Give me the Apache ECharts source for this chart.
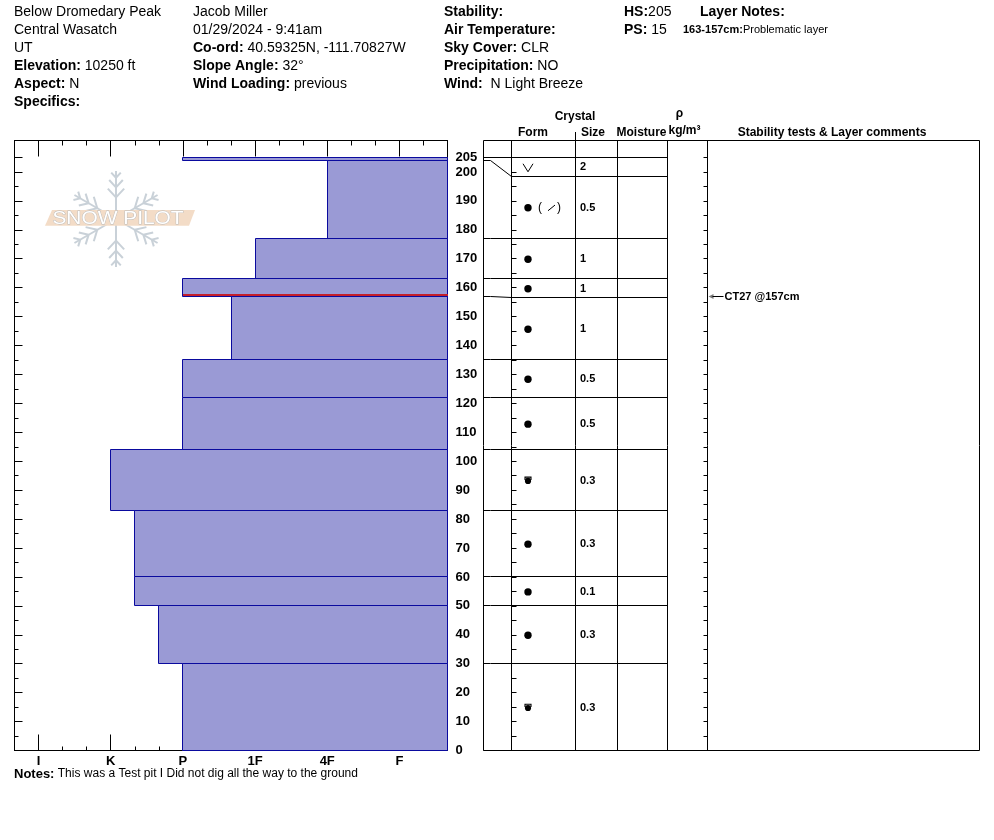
<!DOCTYPE html>
<html>
<head>
<meta charset="utf-8">
<title>Snow profile - Below Dromedary Peak</title>
<script src="https://cdn.jsdelivr.net/npm/echarts@6/dist/echarts.min.js"></script>
<style>
  html, body { margin: 0; padding: 0; background: #fff; }
  #py-chart { width: 994px; height: 840px; }
</style>
</head>
<body>
<div id="py-chart"></div>
<script>
// layers, top to bottom, heights in cm above ground
var layerTops = [205, 204, 177, 163, 157, 135, 122, 104, 83, 60, 50, 30];
var layerBottoms = [204, 177, 163, 157, 135, 122, 104, 83, 60, 50, 30, 0];
var layerHardness = ["P", "4F", "1F", "P", "1F+", "P", "P", "K", "K-", "K-", "P+", "P"];
var layerForms = ["SH", "RG(DF)", "RG", "RG", "RG", "RG", "RG", "MFcr", "RG", "RG", "RG", "MFcr"];
var layerSizes = ["2", "0.5", "1", "1", "1", "0.5", "0.5", "0.3", "0.3", "0.1", "0.3", "0.3"];

// hardness scale, one slot per third of a step
var hardnessTicks = ["", "I", "", "", "K", "", "", "P", "", "", "1F", "", "", "4F", "", "", "F", "", ""];

var heightMax = 205;
var problemDepths = [157];
var testDepths = [157];
var testLabels = ["CT27 @157cm"];

var infoCol1 = ["Below Dromedary Peak", "Central Wasatch", "UT", "{b|Elevation:} 10250 ft", "{b|Aspect:} N", "{b|Specifics:}"];
var infoCol2 = ["Jacob Miller", "01/29/2024 - 9:41am", "{b|Co-ord:} 40.59325N, -111.70827W", "{b|Slope Angle:} 32°", "{b|Wind Loading:} previous"];
var infoCol3 = ["{b|Stability:}", "{b|Air Temperature:}", "{b|Sky Cover:} CLR", "{b|Precipitation:} NO", "{b|Wind:}  N Light Breeze"];
var infoCol4 = ["{b|HS:}205", "{b|PS:} 15"];

var FONT = '"Liberation Sans", Arial, sans-serif';
var TABLE_LEFT = 483.5;
var TABLE_RIGHT = 979.5;
var TABLE_TOP = 140.5;
var TABLE_BOTTOM = 750.5;
var TABLE_COLS = [511.5, 575.5, 617.5, 667.5, 707.5];
var ROW_MIN = 18.5;
var FORM_X = 528;
var SIZE_X = 580;

var crisp = function (v) {
  return Math.round(v - 0.5) + 0.5;
};

var hardnessIndex = function (code) {
  var base = code.replace(/[+-]$/, "");
  var idx = hardnessTicks.indexOf(base);
  if (/\+$/.test(code)) idx -= 1;
  if (/-$/.test(code)) idx += 1;
  return idx;
};

var textEl = function (x, y, text, size, bold, align) {
  return {
    type: "text",
    x: x,
    y: y,
    silent: true,
    style: {
      text: text,
      fontFamily: FONT,
      fontSize: size,
      fontWeight: bold ? "bold" : "normal",
      fill: "#000",
      align: align || "left",
      textAlign: align || "left",
      verticalAlign: "middle",
      textVerticalAlign: "middle",
      rich: {
        b: { fontFamily: FONT, fontSize: size, fontWeight: "bold", fill: "#000" },
        s: { fontFamily: FONT, fontSize: 11, fontWeight: "bold", fill: "#000" },
        n: { fontFamily: FONT, fontSize: 11, fontWeight: "normal", fill: "#000" },
      },
    },
  };
};

var lineEl = function (x1, y1, x2, y2, color, width) {
  return {
    type: "line",
    silent: true,
    shape: { x1: x1, y1: y1, x2: x2, y2: y2 },
    style: { stroke: color || "#000", lineWidth: width || 1 },
  };
};

// snow pilot watermark
var watermark = function (cx, cy, r) {
  var els = [];
  var col = "#c9d1d8";
  for (var a = 0; a < 6; a++) {
    var ang = ((90 + 60 * a) * Math.PI) / 180;
    var dx = Math.cos(ang);
    var dy = -Math.sin(ang);
    els.push(lineEl(cx, cy, cx + dx * r, cy + dy * r, col, 2));
    var spots = [0.45, 0.66, 0.86];
    var lens = [12, 10, 7];
    for (var j = 0; j < spots.length; j++) {
      var bx = cx + dx * r * spots[j];
      var by = cy + dy * r * spots[j];
      for (var s = -1; s <= 1; s += 2) {
        var ba = ang + s * 0.75;
        els.push(lineEl(bx, by, bx + Math.cos(ba) * lens[j], by - Math.sin(ba) * lens[j], col, 2));
      }
    }
  }
  els.push({
    type: "polygon",
    silent: true,
    shape: { points: [[45, 225.7], [52, 210], [195, 210], [189, 225.7]] },
    style: { fill: "#f3dcc7" },
  });
  els.push({
    type: "text",
    x: 118,
    y: 218.5,
    silent: true,
    scaleX: 1.1,
    style: {
      text: "SNOW PILOT",
      fontFamily: FONT,
      fontSize: 19,
      fill: "#ffffff",
      stroke: "#b9b9b9",
      lineWidth: 0.8,
      align: "center",
      textAlign: "center",
      verticalAlign: "middle",
      textVerticalAlign: "middle",
    },
  });
  return els;
};

var seg = function (points) {
  return {
    type: "polyline",
    shape: { points: points },
    style: { stroke: "#000", lineWidth: 1, fill: null },
  };
};

var formSymbol = function (code, cx, cy) {
  var out = [];
  if (code === "SH") {
    out.push({
      type: "polyline",
      shape: { points: [[cx - 5, cy - 3.5], [cx, cy + 4.5], [cx + 5, cy - 3.5]] },
      style: { stroke: "#000", lineWidth: 1, fill: null },
    });
  }
  if (code.indexOf("RG") === 0) {
    out.push({ type: "circle", shape: { cx: cx, cy: cy, r: 3.7 }, style: { fill: "#000" } });
  }
  if (code === "RG(DF)") {
    out.push({
      type: "text",
      style: { text: "(", x: cx + 10, y: cy, fontFamily: FONT, fontSize: 12, fill: "#000", verticalAlign: "middle", textVerticalAlign: "middle" },
    });
    out.push({ type: "line", shape: { x1: cx + 20, y1: cy + 3, x2: cx + 27, y2: cy - 2.7 }, style: { stroke: "#000", lineWidth: 1 } });
    out.push({
      type: "text",
      style: { text: ")", x: cx + 29, y: cy, fontFamily: FONT, fontSize: 12, fill: "#000", verticalAlign: "middle", textVerticalAlign: "middle" },
    });
  }
  if (code === "MFcr") {
    out.push({
      type: "polyline",
      shape: { points: [[cx - 3, cy - 0.5], [cx - 3, cy - 3.4], [cx + 3, cy - 3.4], [cx + 3, cy - 0.5]] },
      style: { stroke: "#000", lineWidth: 1.1, fill: null },
    });
    out.push({ type: "circle", shape: { cx: cx, cy: cy + 0.4, r: 3.1 }, style: { fill: "#000" } });
  }
  return out;
};

// table rows follow the layers, but a row never gets thinner than ROW_MIN px
var rowEdges = function (api) {
  var edges = [api.coord([0, layerTops[0]])[1]];
  for (var k = 0; k < layerBottoms.length; k++) {
    var y = api.coord([0, layerBottoms[k]])[1];
    edges.push(Math.max(y, edges[k] + ROW_MIN));
  }
  return edges;
};

var renderLayer = function (params, api) {
  var p0 = api.coord([api.value(0), api.value(1)]);
  var p1 = api.coord([hardnessTicks.length - 1, api.value(2)]);
  var x0 = crisp(p0[0]);
  var y0 = crisp(p0[1]);
  var x1 = crisp(p1[0]);
  var y1 = crisp(p1[1]);
  return {
    type: "rect",
    shape: { x: x0, y: y0, width: x1 - x0, height: y1 - y0 },
    style: { fill: "#9a9ad5", stroke: "#0a0a9e", lineWidth: 1 },
  };
};

var renderProblem = function (params, api) {
  var p0 = api.coord([api.value(0), api.value(1)]);
  var p1 = api.coord([hardnessTicks.length - 1, api.value(1)]);
  var y = Math.round(p0[1]) - 1;
  return {
    type: "line",
    shape: { x1: Math.round(p0[0]), y1: y, x2: Math.round(p1[0]), y2: y },
    style: { stroke: "#c41e2a", lineWidth: 2 },
  };
};

var renderRow = function (params, api) {
  var i = params.dataIndex;
  var cs = params.coordSys;
  var edges = rowEdges(api);
  var yTop = crisp(edges[i]);
  var yBot = crisp(edges[i + 1]);
  var yLayer = crisp(api.coord([0, layerBottoms[i]])[1]);
  var xC = crisp(cs.x);
  var xR = TABLE_COLS[3];
  var kids = [];
  if (i === 0) kids.push(seg([[TABLE_LEFT, yTop], [xR, yTop]]));
  kids.push(seg([[TABLE_LEFT, yLayer], [TABLE_LEFT + 7, yLayer], [xC, yBot], [xR, yBot]]));
  var yMid = (edges[i] + edges[i + 1]) / 2;
  kids = kids.concat(formSymbol(layerForms[i], FORM_X, yMid + 0.5));
  kids.push({
    type: "text",
    style: {
      text: layerSizes[i],
      x: SIZE_X,
      y: yMid + 0.5,
      fontFamily: FONT,
      fontSize: 11,
      fontWeight: "bold",
      fill: "#000",
      verticalAlign: "middle",
      textVerticalAlign: "middle",
    },
  });
  return { type: "group", children: kids };
};

var renderTest = function (params, api) {
  var cs = params.coordSys;
  var y = Math.round(api.coord([0, api.value(1)])[1]) + 0.5;
  var x0 = crisp(cs.x + cs.width);
  return {
    type: "group",
    children: [
      { type: "polygon", shape: { points: [[x0 + 1, y], [x0 + 6, y - 2.5], [x0 + 6, y + 2.5]] }, style: { fill: "#7a7a7a" } },
      { type: "line", shape: { x1: x0 + 5, y1: y, x2: x0 + 16, y2: y }, style: { stroke: "#000", lineWidth: 1 } },
      {
        type: "text",
        style: {
          text: testLabels[params.dataIndex],
          x: x0 + 17,
          y: y,
          fontFamily: FONT,
          fontSize: 11,
          fontWeight: "bold",
          fill: "#000",
          verticalAlign: "middle",
          textVerticalAlign: "middle",
        },
      },
    ],
  };
};

var buildGraphic = function () {
  var els = watermark(116, 219, 48);
  var k;
  // table frame and columns
  els.push({
    type: "rect",
    silent: true,
    shape: { x: TABLE_LEFT, y: TABLE_TOP, width: TABLE_RIGHT - TABLE_LEFT, height: TABLE_BOTTOM - TABLE_TOP },
    style: { fill: null, stroke: "#000", lineWidth: 1 },
  });
  for (k = 0; k < TABLE_COLS.length; k++) {
    els.push(lineEl(TABLE_COLS[k], TABLE_TOP, TABLE_COLS[k], TABLE_BOTTOM));
  }
  els.push(lineEl(TABLE_COLS[1], 132, TABLE_COLS[1], TABLE_TOP));
  // table header
  els.push(textEl(575, 117, "Crystal", 12, true, "center"));
  els.push(textEl(533, 133, "Form", 12, true, "center"));
  els.push(textEl(593, 133, "Size", 12, true, "center"));
  els.push(textEl(641.5, 133, "Moisture", 12, true, "center"));
  els.push(textEl(679.5, 114, "ρ", 12, true, "center"));
  els.push(textEl(684.5, 131, "kg/m³", 12, true, "center"));
  els.push(textEl(832, 133, "Stability tests & Layer comments", 12, true, "center"));
  // site information
  for (k = 0; k < infoCol1.length; k++) els.push(textEl(14, 12 + 18 * k, infoCol1[k], 14, false));
  for (k = 0; k < infoCol2.length; k++) els.push(textEl(193, 12 + 18 * k, infoCol2[k], 14, false));
  for (k = 0; k < infoCol3.length; k++) els.push(textEl(444, 12 + 18 * k, infoCol3[k], 14, false));
  for (k = 0; k < infoCol4.length; k++) els.push(textEl(624, 12 + 18 * k, infoCol4[k], 14, false));
  els.push(textEl(700, 12, "Layer Notes:", 14, true));
  els.push(textEl(683, 30, "{s|163-157cm:}{n|Problematic layer}", 11, false));
  els.push(textEl(14, 774, "{b|Notes:} This was a Test pit I Did not dig all the way to the ground", 12, false));
  els[els.length - 1].style.rich.b.fontSize = 13;
  return els;
};

var isMajor = function (index) {
  return hardnessTicks[index] !== "";
};

var blackLine = { onZero: false, lineStyle: { color: "#000", width: 1 } };
var labelFont = { color: "#000", fontWeight: "bold", fontSize: 13, fontFamily: FONT };

var heightAxis = function (grid, pos, interval, len, extra) {
  var ax = {
    gridIndex: grid,
    type: "value",
    position: pos,
    min: 0,
    max: heightMax,
    interval: interval,
    axisLine: { show: false, onZero: false },
    axisTick: { show: true, inside: true, length: len, lineStyle: { color: "#000" } },
    axisLabel: { show: false },
    splitLine: { show: false },
  };
  for (var key in extra) ax[key] = extra[key];
  return ax;
};

var frameAxis = function (grid, pos) {
  return {
    gridIndex: grid,
    type: "value",
    position: pos,
    min: 0,
    max: 1,
    axisLine: { show: true, onZero: false, lineStyle: { color: "#000", width: 1 } },
    axisTick: { show: false },
    axisLabel: { show: false },
    splitLine: { show: false },
  };
};

var hardAxis = function (grid, pos, len, major, withLabel) {
  return {
    gridIndex: grid,
    type: "category",
    position: pos,
    boundaryGap: false,
    data: hardnessTicks.map(function (t, i) {
      return String(i);
    }),
    axisLine: { show: major, onZero: false, lineStyle: { color: "#000", width: 1 } },
    axisTick: { show: true, inside: true, length: len, interval: major ? isMajor : 0, lineStyle: { color: "#000" } },
    axisLabel: withLabel
      ? {
          show: true,
          interval: 0,
          margin: 4,
          color: "#000",
          fontWeight: "bold",
          fontSize: 13,
          fontFamily: FONT,
          formatter: function (v, i) {
            return hardnessTicks[i];
          },
        }
      : { show: false },
    splitLine: { show: false },
  };
};

var layerData = layerTops.map(function (top, i) {
  return [hardnessIndex(layerHardness[i]), top, layerBottoms[i]];
});
var problemData = problemDepths.map(function (d) {
  var i = layerBottoms.indexOf(d);
  return [hardnessIndex(layerHardness[i]), d];
});
var rowData = layerTops.map(function (top, i) {
  return [0.5, top];
});
var testData = testDepths.map(function (d) {
  return [0.5, d];
});

var option = {
  animation: false,
  backgroundColor: "#fff",
  grid: [
    { left: 14.5, top: 157.5, width: 433, height: 593 },
    { left: 14.5, top: 140.5, width: 433, height: 17 },
    { left: 511.5, top: 157.5, width: 196, height: 593 },
  ],
  xAxis: [
    hardAxis(0, "bottom", 16, true, true),
    hardAxis(0, "bottom", 4, false, false),
    { gridIndex: 0, type: "value", min: 0, max: hardnessTicks.length - 1, show: false },
    hardAxis(1, "top", 16, true, false),
    hardAxis(1, "top", 5, false, false),
    { gridIndex: 2, type: "value", min: 0, max: 1, show: false },
  ],
  yAxis: [
    heightAxis(0, "right", 5, 4, {
      axisLine: blackLine,
      axisLabel: {
        show: true,
        margin: 8,
        color: labelFont.color,
        fontWeight: labelFont.fontWeight,
        fontSize: labelFont.fontSize,
        fontFamily: labelFont.fontFamily,
        formatter: function (v) {
          return v % 10 === 0 || v === heightMax ? String(v) : "";
        },
      },
    }),
    heightAxis(0, "right", 10, 8, {}),
    heightAxis(0, "left", 5, 4, { axisLine: blackLine }),
    heightAxis(0, "left", 10, 8, {}),
    frameAxis(1, "left"),
    frameAxis(1, "right"),
    heightAxis(2, "left", 5, 5, {}),
    heightAxis(2, "right", 5, 4, {}),
  ],
  series: [
    {
      name: "layers",
      type: "custom",
      xAxisIndex: 2,
      yAxisIndex: 0,
      renderItem: renderLayer,
      encode: { x: 0, y: [1, 2] },
      data: layerData,
      z: 2,
    },
    {
      name: "problem layer",
      type: "custom",
      xAxisIndex: 2,
      yAxisIndex: 0,
      renderItem: renderProblem,
      encode: { x: 0, y: 1 },
      data: problemData,
      z: 3,
    },
    {
      name: "rows",
      type: "custom",
      xAxisIndex: 5,
      yAxisIndex: 6,
      renderItem: renderRow,
      encode: { x: 0, y: 1 },
      data: rowData,
      z: 3,
    },
    {
      name: "tests",
      type: "custom",
      xAxisIndex: 5,
      yAxisIndex: 6,
      renderItem: renderTest,
      encode: { x: 0, y: 1 },
      data: testData,
      z: 3,
    },
  ],
  graphic: { elements: buildGraphic() },
};

var curchart = echarts.init(document.getElementById("py-chart"), null, { renderer: "canvas" });
curchart.setOption(option);
</script>
</body>
</html>
